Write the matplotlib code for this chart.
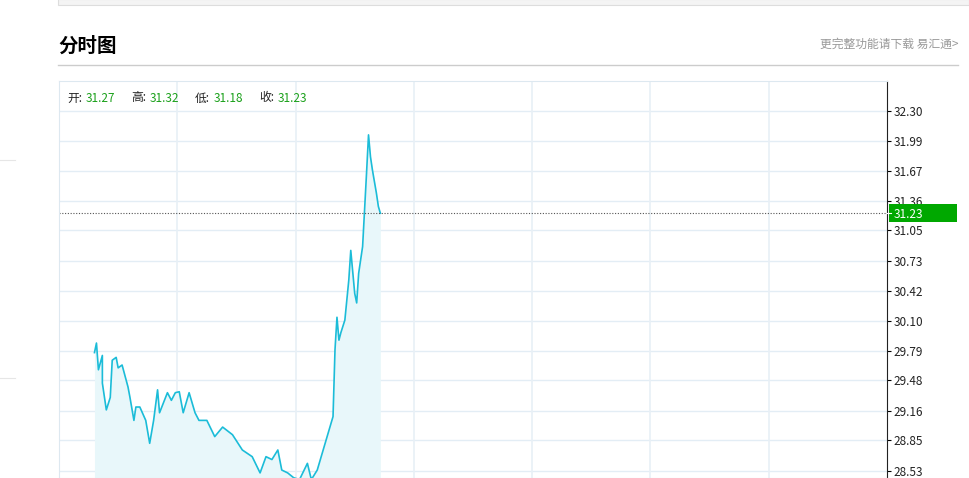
import numpy as np
import matplotlib
matplotlib.use("Agg")
import matplotlib.pyplot as plt
from matplotlib.patches import Rectangle

plt.rcParams["font.family"] = ["Noto Sans CJK SC", "DejaVu Sans"]

# minutes since open, price
minutes = [18, 19, 20, 22, 22, 24, 26, 27, 29, 30, 32, 35, 36, 38, 39, 41, 44, 46, 48,
           50, 51, 55, 57, 59, 61, 63, 66, 69, 71, 75, 79, 83, 88, 93, 98, 102, 105, 108,
           111, 113, 116, 119, 122, 126, 128, 131, 134, 136, 139, 140, 141, 142, 143,
           145, 147, 148, 150, 151, 152, 154, 156, 157, 158, 159, 161, 162, 163]
prices = [29.77, 29.87, 29.59, 29.74, 29.45, 29.17, 29.30, 29.69, 29.72, 29.61, 29.64,
          29.41, 29.30, 29.06, 29.20, 29.20, 29.06, 28.82, 29.06, 29.38, 29.14, 29.35,
          29.27, 29.35, 29.36, 29.14, 29.35, 29.14, 29.06, 29.06, 28.89, 28.99, 28.91,
          28.75, 28.68, 28.51, 28.68, 28.65, 28.75, 28.54, 28.51, 28.46, 28.44, 28.61,
          28.44, 28.54, 28.75, 28.89, 29.10, 29.80, 30.14, 29.90, 29.98, 30.11, 30.53,
          30.84, 30.39, 30.29, 30.60, 30.88, 31.65, 32.05, 31.82, 31.68, 31.44, 31.30, 31.23]
ticks = [32.30, 31.99, 31.67, 31.36, 31.05, 30.73, 30.42, 30.10, 29.79, 29.48, 29.16, 28.85, 28.53]
ohlc = [("开", "31.27"), ("高", "31.32"), ("低", "31.18"), ("收", "31.23")]
last = 31.23

W, H = 969, 478
fig = plt.figure(figsize=(W / 100, H / 100), dpi=100)

# page furniture
fig.patches.append(Rectangle((58 / W, 1 - 5 / H), 911 / W, 6 / H, transform=fig.transFigure,
                             facecolor="#f4f4f4", edgecolor="#dddddd", lw=0.8))
fig.text(58 / W, 1 - 46 / H, "分时图", fontsize=14, fontweight="bold", va="center")
fig.text(958 / W, 1 - 44 / H, "更完整功能请下载 易汇通>", fontsize=8.5, color="#999999",
         va="center", ha="right")
fig.add_artist(plt.Line2D([58 / W, 958 / W], [1 - 65 / H] * 2, color="#cccccc", lw=1))
for yy in (160, 378):
    fig.add_artist(plt.Line2D([0, 15 / W], [1 - yy / H] * 2, color="#e6e6e6", lw=0.8))

step = 0.31417
y_top = 32.30 + step
y_bot = 32.30 - 367 / 30 * step
ax = fig.add_axes([59 / W, 0, 828 / W, 397 / H])
ax.set_xlim(0, 420)
ax.set_ylim(y_bot, y_top)

t = np.array(minutes, dtype=float)
p = np.array(prices)
ax.fill_between(t, p, y_bot, color="#e8f7fa", lw=0)
ax.plot(t, p, color="#1bbcd8", lw=1.2)
ax.axhline(last, color="#555555", lw=0.8, ls=(0, (1, 1.5)))

for v in ticks:
    ax.axhline(v, color="#e3edf5", lw=1, zorder=0)
for x in range(60, 420, 60):
    ax.axvline(x, color="#e8f0f6", lw=1.2, zorder=0)

ax.set_xticks([])
ax.yaxis.tick_right()
ax.set_yticks(ticks)
ax.set_yticklabels([f"{v:.2f}" for v in ticks], fontsize=8.5, color="#222222")
ax.tick_params(axis="y", length=3, width=0.8, pad=2)
for s in ("top", "left", "bottom"):
    ax.spines[s].set_color("#dde8f0")
ax.spines["right"].set_color("#222222")

# last price badge
fig.patches.append(Rectangle((889 / W, 1 - 222 / H), 68 / W, 18 / H,
                             transform=fig.transFigure, facecolor="#00a800", zorder=2))
fig.add_artist(plt.Line2D([887 / W, 891 / W], [1 - 213 / H] * 2, color="white", lw=0.8, zorder=3))
fig.text(894 / W, 1 - 214 / H, f"{last:.2f}", fontsize=8.5, color="white", va="center", zorder=3)

# OHLC header
x = 67
for k, v in ohlc:
    fig.text(x / W, 1 - 98 / H, k + ":", fontsize=8.5, color="#222222", va="center")
    fig.text((x + 19) / W, 1 - 98 / H, v, fontsize=8.5, color="#1aa01a", va="center")
    x += 64

fig.savefig("out.png", dpi=100)
